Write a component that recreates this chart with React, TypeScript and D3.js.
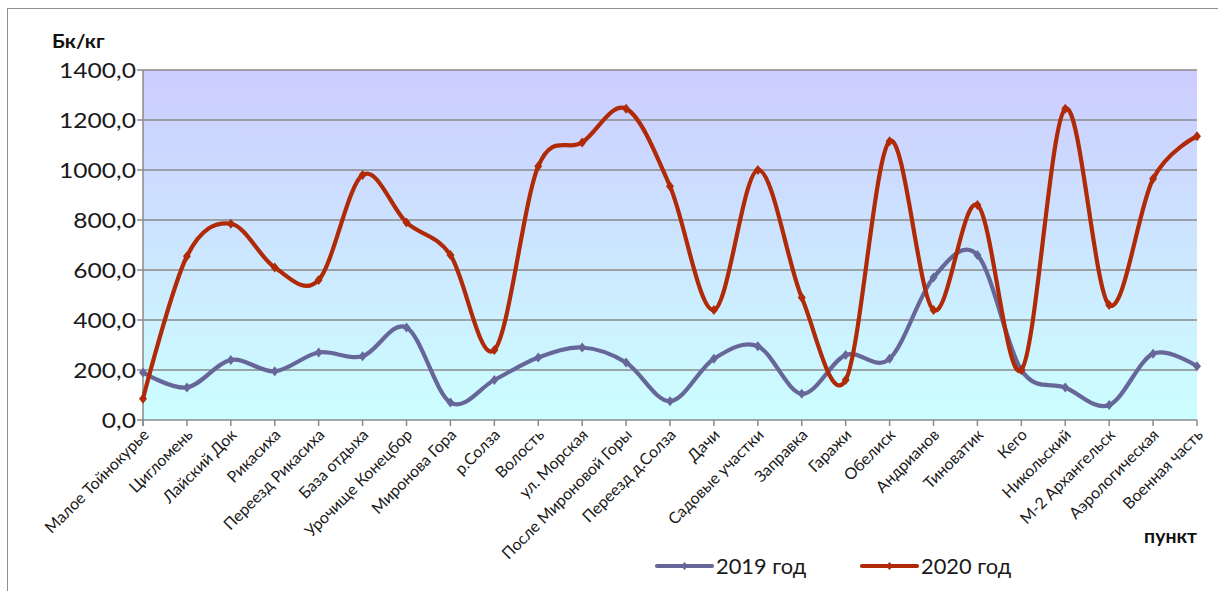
import * as d3 from "d3";

const categories = [
  "Малое Тойнокурье",
  "Цигломень",
  "Лайский Док",
  "Рикасиха",
  "Переезд Рикасиха",
  "База отдыха",
  "Урочище Конецбор",
  "Миронова Гора",
  "р.Солза",
  "Волость",
  "ул. Морская",
  "После Мироновой Горы",
  "Переезд д.Солза",
  "Дачи",
  "Садовые участки",
  "Заправка",
  "Гаражи",
  "Обелиск",
  "Андрианов",
  "Тиноватик",
  "Кего",
  "Никольский",
  "М-2 Архангельск",
  "Аэрологическая",
  "Военная часть",
];

const values2019 = [
  190, 130, 240, 195, 270, 255, 370, 70, 160, 250, 290, 230, 75, 245, 295, 105,
  260, 245, 570, 660, 200, 130, 60, 265, 215,
];

const values2020 = [
  85, 655, 785, 610, 560, 980, 790, 660, 280, 1015, 1110, 1245, 935, 440, 1000,
  490, 160, 1115, 440, 860, 200, 1245, 460, 965, 1135,
];

const yTicks = [0, 200, 400, 600, 800, 1000, 1200, 1400];

const series = [
  { name: "2019 год", values: values2019, color: "#666699" },
  { name: "2020 год", values: values2020, color: "#B02A08" },
];

export default function App() {
  const width = 1218;
  const height = 591;
  const plot = { left: 143, right: 1197, top: 70, bottom: 420 };

  const x = d3
    .scalePoint<string>()
    .domain(categories)
    .range([plot.left, plot.right]);
  const y = d3.scaleLinear().domain([0, 1400]).range([plot.bottom, plot.top]);

  const line = d3
    .line<number>()
    .x((_, i) => x(categories[i]) ?? 0)
    .y((d) => y(d))
    .curve(d3.curveCardinal.tension(0));

  const font = "Lato, 'Open Sans', sans-serif";
  const ink = "#1a1a1a";

  return (
    <svg
      width={width}
      height={height}
      style={{ position: "absolute", left: 0, top: 0, background: "#fff" }}
      fontFamily={font}
    >
      <defs>
        <linearGradient id="bg" x1="0" y1="0" x2="0" y2="1">
          <stop offset="0%" stopColor="#CCCCFF" />
          <stop offset="100%" stopColor="#CCFFFF" />
        </linearGradient>
      </defs>
      {/* рамка диаграммы */}
      <rect x={7.5} y={8.5} width={1230} height={600} fill="none" stroke="#8f8f8f" strokeWidth={1} />

      <rect
        x={plot.left}
        y={plot.top}
        width={plot.right - plot.left}
        height={plot.bottom - plot.top}
        fill="url(#bg)"
      />

      {yTicks.map((t) => (
        <g key={t} transform={`translate(0, ${y(t)})`}>
          <line x1={plot.left} x2={plot.right} stroke="#8a8a8a" strokeWidth={1.5} />
          <line x1={plot.left - 6} x2={plot.left} stroke="#8a8a8a" strokeWidth={1.5} />
          <text
            transform={`translate(${plot.left - 7}, 7.5) scale(1.12, 1)`}
            textAnchor="end"
            fontSize={22}
            fill={ink}
          >
            {d3.format(".1f")(t).replace(".", ",")}
          </text>
        </g>
      ))}

      <line x1={plot.left} x2={plot.left} y1={plot.top} y2={plot.bottom + 6} stroke="#8a8a8a" strokeWidth={1.5} />

      {categories.map((c) => {
        const cx = x(c) ?? 0;
        return (
          <g key={c}>
            <line x1={cx} x2={cx} y1={plot.bottom} y2={plot.bottom + 6} stroke="#8a8a8a" strokeWidth={1.5} />
            <text
              transform={`translate(${cx + 4}, ${plot.bottom + 13}) rotate(-45)`}
              textAnchor="end"
              dominantBaseline="middle"
              fontSize={16}
              fill={ink}
            >
              {c}
            </text>
          </g>
        );
      })}

      {series.map((s) => (
        <g key={s.name}>
          <path d={line(s.values) ?? ""} fill="none" stroke={s.color} strokeWidth={4.2} strokeLinejoin="round" />
          {s.values.map((v, i) => {
            const px = x(categories[i]) ?? 0;
            const py = y(v);
            return (
              <path
                key={i}
                d={`M${px},${py - 5}L${px + 4},${py}L${px},${py + 5}L${px - 4},${py}Z`}
                fill={s.color}
              />
            );
          })}
        </g>
      ))}

      <text transform="translate(52, 48) scale(1.14, 1)" fontSize={18} fontWeight="bold" fill="#111">
        Бк/кг
      </text>
      <text
        transform="translate(1197, 543) scale(1.08, 1)"
        fontSize={18}
        fontWeight="bold"
        fill="#111"
        textAnchor="end"
      >
        пункт
      </text>

      {series.map((s, i) => {
        const lx = 657 + i * 205;
        return (
          <g key={s.name} transform={`translate(${lx}, 566)`}>
            <line x1={0} x2={55} stroke={s.color} strokeWidth={4.2} strokeLinecap="round" />
            <path d="M27.5,-4L31,0L27.5,4L24,0Z" fill={s.color} />
            <text transform="translate(59, 7.5) scale(1.04, 1)" fontSize={21} fill={ink}>
              {s.name}
            </text>
          </g>
        );
      })}
    </svg>
  );
}
